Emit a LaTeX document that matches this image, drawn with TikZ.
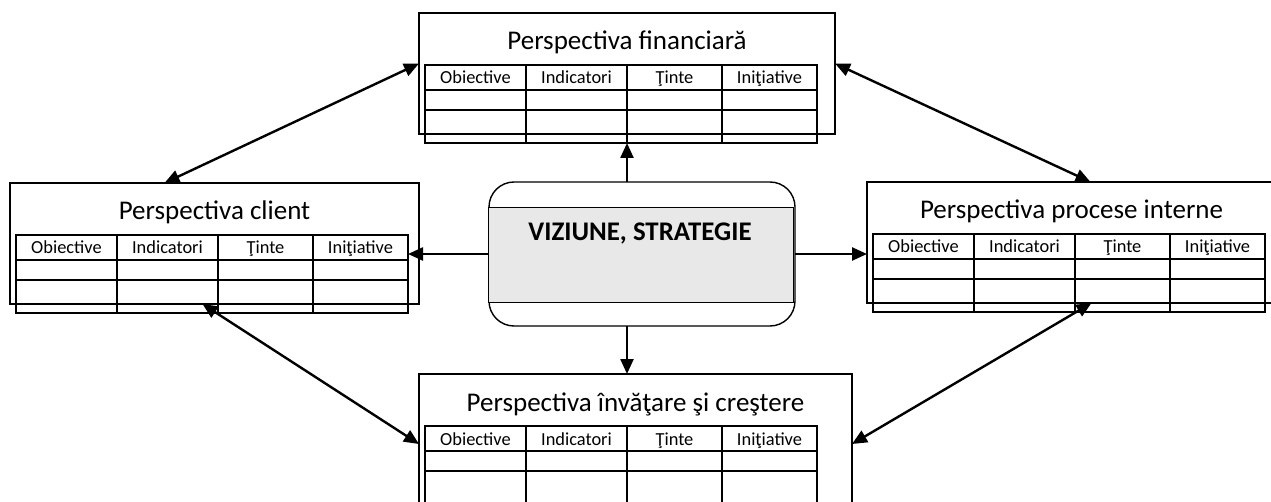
\documentclass[tikz,border=0pt]{standalone}
\usepackage{fontspec}
\setmainfont{Carlito}
\usetikzlibrary{arrows.meta}

\begin{document}
\begin{tikzpicture}
  [x=1pt,y=-1pt,
   every node/.style={inner sep=0pt,outer sep=0pt},
   pbox/.style={draw,line width=1.4pt,minimum width=#1,anchor=north west},
   ptab/.style={draw,line width=2.2pt,minimum width=392pt,minimum height=78pt,anchor=north west},
   ptitle/.style={anchor=base,font=\fontsize{27}{31}\selectfont},
   phead/.style={anchor=base,font=\fontsize{18.4}{21}\selectfont},
   link/.style={line width=2.4pt,{Triangle[length=15pt,width=13pt]}-{Triangle[length=15pt,width=13pt]}},
   tolink/.style={line width=2.4pt,-{Triangle[length=15pt,width=13pt]}}]
  \useasboundingbox (0,0) rectangle (1271,502);

  % the four perspectives, each with its table
  \foreach \nm/\x/\y/\w/\h/\title in {fin/419/13/416/121/Perspectiva financiară,
      cli/10/183/409/121/Perspectiva client,
      proc/867/182/409/121/Perspectiva procese interne,
      inv/419/374/433/140/Perspectiva învăţare şi creştere}
  {
    \node[pbox=\w pt,minimum height=\h pt] (\nm-box) at (\x,\y) {};
    \node[ptitle] (\nm-title) at (\x+\w/2,\y+37) {\title};
    \node[ptab] (\nm-tab) at (\x+6,\y+52) {};
    \draw[line width=2.2pt] (\x+6,\y+77) -- ++(392,0) (\x+6,\y+97) -- ++(392,0);
    \foreach \cx in {101,202,297}
      \draw[line width=2.2pt] (\x+6+\cx,\y+52) -- ++(0,78);
    \foreach \cx/\lab [count=\i] in {50.5/Obiective,151.5/Indicatori,249.5/Ţinte,344.5/Iniţiative}
      \node[phead] (\nm-h\i) at (\x+6+\cx,\y+71) {\lab};
  }

  % centre: vision and strategy
  \node[draw,line width=1.4pt,rounded corners=25pt,minimum width=306pt,minimum height=144pt] (vis) at (642,254) {};
  \node[draw,line width=0.8pt,fill=black!9,minimum width=305pt,minimum height=95pt,anchor=north west] (visband) at (488,207) {};
  \node[anchor=base,font=\bfseries\fontsize{26.9}{31}\selectfont] (vistext) at (640,241) {VIZIUNE, STRATEGIE};

  \draw[tolink] (vis.north -| fin-box.north) -- (fin-tab.south -| fin-box.north);
  \draw[tolink] (vis.south -| fin-box.south) -- (inv-box.north -| fin-box.south);
  \draw[tolink] (vis.west) -- (cli-tab.east |- vis.west);
  \draw[tolink] (vis.east) -- (proc-box.west |- vis.east);

  % ends of the links between perspectives
  \coordinate (cli-up) at ([xshift=-50pt]cli-box.north);
  \coordinate (cli-down) at ([xshift=-12pt]cli-box.south);
  \coordinate (fin-left) at ([yshift=10pt]fin-box.west);
  \coordinate (fin-right) at ([yshift=10pt]fin-box.east);
  \coordinate (proc-up) at ([xshift=19pt]proc-box.north);
  \coordinate (proc-down) at ([xshift=20pt]proc-box.south);

  \foreach \from/\to in {cli-up/fin-left,fin-right/proc-up,cli-down/inv-box.west,proc-down/inv-box.east}
    \draw[link] (\from) -- (\to);
\end{tikzpicture}
\end{document}
